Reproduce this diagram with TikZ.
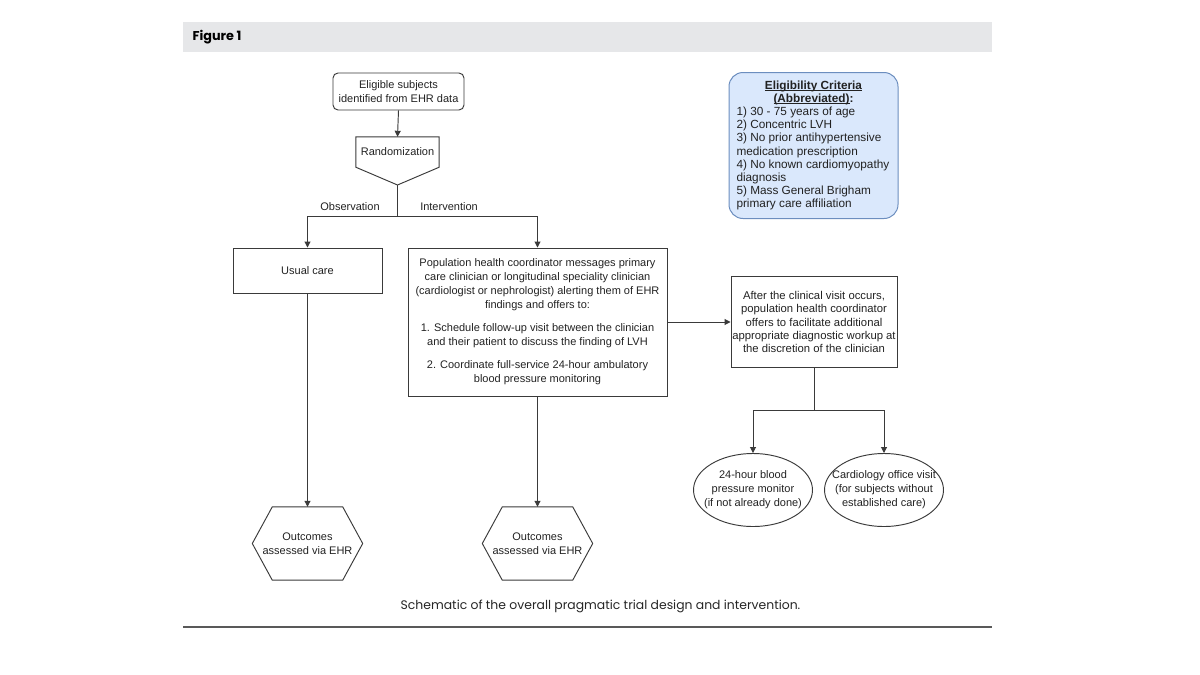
\documentclass[tikz,border=0pt]{standalone}
\usepackage{fontspec}
\setmainfont{Liberation Sans}
\newfontfamily\futura{Poppins}
\usetikzlibrary{arrows.meta,shapes.geometric,calc}
\definecolor{ln}{HTML}{3A3A3A}
\definecolor{txt}{HTML}{222222}
\definecolor{hdr}{HTML}{E6E7E9}
\definecolor{eligfill}{HTML}{DAE8FC}
\definecolor{eligdraw}{HTML}{6C8EBF}
\newcommand\myul[1]{\setbox0\hbox{#1}\rlap{\rule[-1.3pt]{\wd0}{0.7pt}}\box0}
\begin{document}
\begin{tikzpicture}[x=1pt,y=-1pt,
  every node/.style={font=\fontsize{11}{14}\selectfont, text=txt},
  flow/.style={draw=ln, line width=0.95pt, -{Triangle[width=6pt,length=6pt]}},
  link/.style={draw=ln, line width=0.95pt},
  boxnode/.style={draw=ln, line width=0.95pt, align=center, inner sep=0pt},
  plain/.style={align=center, inner sep=0pt},
  hexlabel/.style={plain, minimum width=110, minimum height=73},
  ell/.style={draw=ln, line width=0.95pt, ellipse, inner sep=0pt, minimum width=119, minimum height=73}
]
\useasboundingbox (0,0) rectangle (1200,675);

% header band
\fill[hdr] (183,22) rectangle (992,52);
\node[anchor=west, font=\futura\bfseries\fontsize{12.8}{14}\selectfont, text=black] (fig) at (189,37.5) {Figure 1};

% top
\node[boxnode, rounded corners=5pt, minimum width=131, minimum height=37] (elig) at (398.5,91.5) {Eligible subjects\\identified from EHR data};
\node[plain, minimum width=83, minimum height=30] (rand) at (397.5,152) {Randomization};
\coordinate (randtip) at (397.5,185);
\draw[link] (rand.north west) -- (rand.north east) -- (rand.south east) -- (randtip) -- (rand.south west) -- cycle;
\draw[flow] (elig.south) -- (rand.north);

% branches
\node[boxnode, minimum width=149, minimum height=45] (usual) at (307.5,270.5) {Usual care};
\node[boxnode, minimum width=259, minimum height=148] (big) at (537.5,322) {Population health coordinator messages primary\\
care clinician or longitudinal speciality clinician\\
(cardiologist or nephrologist) alerting them of EHR\\
findings and offers to:\\[9pt]
1. Schedule follow-up visit between the clinician\\
and their patient to discuss the finding of LVH\\[9pt]
2. Coordinate full-service 24-hour ambulatory\\
blood pressure monitoring};

\coordinate (split) at (397.5,216);
\draw[link] (randtip) -- (split);
\draw[flow] (split) -| (usual.north);
\draw[flow] (split) -| (big.north);
\node (obs) at (350,207) {Observation};
\node (int) at (449,207) {Intervention};

% right side
\node[boxnode, minimum width=166, minimum height=91, font=\fontsize{11.3}{13.3}\selectfont] (after) at (814,322) {After the clinical visit occurs,\\
population health coordinator\\
offers to facilitate additional\\
appropriate diagnostic workup at\\
the discretion of the clinician};
\draw[flow] (big.east) -- (after.west);

\node[ell] (bp) at (753,490) {};
\node[plain] (bptext) at (bp.center) {24-hour blood\\pressure monitor\\(if not already done)};
\node[ell] (cardio) at (884,490) {};
\node[plain] (cardiotext) at (cardio.center) {Cardiology office visit\\(for subjects without\\established care)};
\coordinate (split2) at (814,410);
\draw[link] (after.south) -- (split2);
\draw[flow] (split2) -| (bp.north);
\draw[flow] (split2) -| (cardio.north);

% outcomes hexagons
\node[hexlabel] (out1) at (307.5,543.5) {Outcomes\\assessed via EHR};
\node[hexlabel] (out2) at (537.5,543.5) {Outcomes\\assessed via EHR};
\foreach \h in {out1,out2}{
  \draw[link] ($(\h.north west)+(20,0)$) -- ($(\h.north east)+(-20,0)$) -- (\h.east) -- ($(\h.south east)+(-20,0)$) -- ($(\h.south west)+(20,0)$) -- (\h.west) -- cycle;
}
\draw[flow] (usual.south) -- (out1.north);
\draw[flow] (big.south) -- (out2.north);

% eligibility criteria
\node[draw=eligdraw, fill=eligfill, line width=1pt, rounded corners=14pt, inner sep=0pt,
      minimum width=169, minimum height=146, align=left,
      font=\fontsize{11.8}{13.2}\selectfont] (crit) at (813.5,145.5)
{\makebox[154pt][c]{\bfseries\myul{Eligibility Criteria}}\\
\makebox[154pt][c]{\bfseries\myul{(Abbreviated)}:}\\
1) 30 - 75 years of age\\
2) Concentric LVH\\
3) No prior antihypertensive\\
medication prescription\\
4) No known cardiomyopathy\\
diagnosis\\
5) Mass General Brigham\\
primary care affiliation};

% caption and rule
\node[font=\futura\fontsize{12.4}{14}\selectfont, text=black!85] (cap) at (600.5,606) {Schematic of the overall pragmatic trial design and intervention.};
\coordinate (ruleL) at (183,627);
\coordinate (ruleR) at (992,627);
\draw[line width=2pt, draw=black!65] (ruleL) -- (ruleR);
\end{tikzpicture}
\end{document}
